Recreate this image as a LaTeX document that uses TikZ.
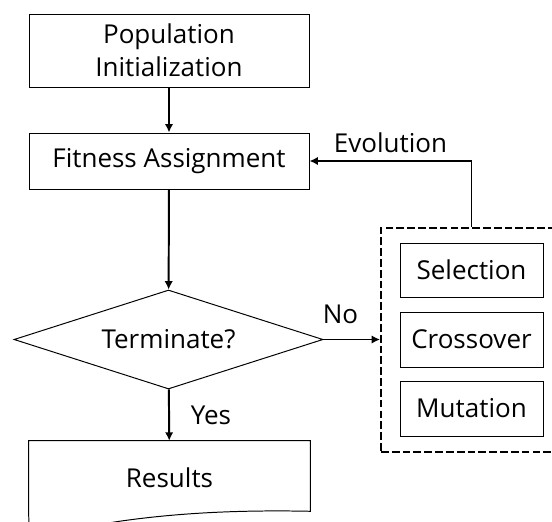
\documentclass[tikz,border=0pt]{standalone}
\usepackage{fontspec}
\setmainfont{Open Sans}
\usetikzlibrary{arrows.meta,positioning,shapes.geometric}

\begin{document}
\begin{tikzpicture}[>={Latex[length=6pt,width=6pt]},
  every node/.style={font=\fontsize{18.5}{23.5}\selectfont},
  box/.style={draw,line width=0.7pt,align=center,inner sep=0pt},
  flow/.style={->,line width=1.4pt},
  lbl/.style={inner sep=2pt}]
  \useasboundingbox (0,0) rectangle (13.8,-13.05);
  % main column
  \node[box,minimum width=7cm,minimum height=1.825cm] (pop) at (4.225,-1.2625) {Population\\Initialization};
  \node[box,minimum width=7cm,minimum height=1.4cm] (fit) at (4.225,-4.025) {Fitness Assignment};
  \node[box,diamond,aspect=3.12,minimum width=7.725cm,minimum height=2.475cm] (term) at (4.2125,-8.4875) {Terminate?};
  \node[inner sep=0pt,minimum width=7.025cm,minimum height=1.85cm] (res) at (4.2375,-11.95) {Results};
  \draw[line width=0.7pt] (res.south west) -- (res.north west) -- (res.north east)
    -- ([yshift=0.1cm]res.south east)
    .. controls (6.2,-12.75) and (4.6,-12.8) .. (3.0,-13.03)
    .. controls (2.2,-13.15) and (1.2,-13.3) .. (0.725,-13.32) -- (res.south west);
  % operators
  \node[draw,dashed,line width=1.4pt,dash pattern=on 5.5pt off 2.2pt,minimum width=4.525cm,minimum height=5.6cm] (ops) at (11.7875,-8.5) {};
  \node[box,minimum width=3.575cm,minimum height=1.35cm] (sel) at (11.7875,-6.75) {Selection};
  \node[box,minimum width=3.575cm,minimum height=1.375cm] (cro) at (11.7875,-8.4875) {Crossover};
  \node[box,minimum width=3.575cm,minimum height=1.375cm] (mut) at (11.7875,-10.2125) {Mutation};
  % connectors
  \draw[flow] (pop) -- (fit);
  \draw[flow] (fit) -- (term);
  \draw[flow] (term) -- node[lbl,right=0.45cm] {Yes} (res);
  \draw[flow] (term.east) -- node[lbl,pos=0.3,above=0.3cm] {No} (term.east -| ops.west);
  \draw[flow] (ops.north) |- node[lbl,pos=0.75,above=0.12cm] {Evolution} (fit.east);
\end{tikzpicture}
\end{document}
